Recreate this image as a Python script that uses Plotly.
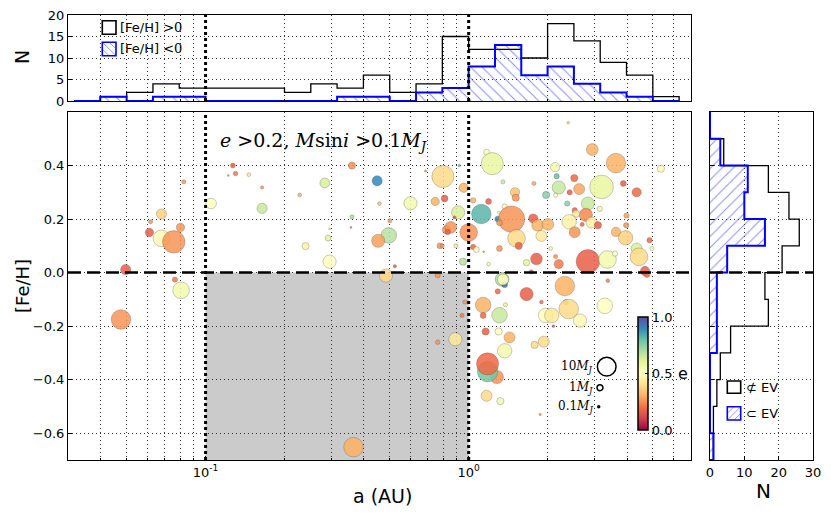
import math
import plotly.graph_objects as go

W, H = 831, 516          # browser window
OFF = 8                  # default page body margin
FW, FH = W - OFF, H - OFF  # figure size so that it fills the window

# ---------------- scatter data: semi-major axis (AU), [Fe/H], eccentricity, Msini (M_J)
A_AU = [0.127, 0.130, 0.122, 0.146, 0.0826, 0.105, 0.068, 0.0618, 0.0803, 0.0612,
        0.068, 0.0757, 0.101, 0.0497, 0.0889, 0.0765, 0.0807, 0.0477, 0.164, 0.164,
        0.360, 0.284, 0.449, 0.228, 0.458, 0.601, 0.746, 0.81, 0.686, 0.798,
        0.360, 0.296, 0.357, 0.292, 0.240, 0.296, 0.497, 0.453, 0.502, 0.524,
        0.778, 0.823, 0.485, 0.763, 2.39, 1.17, 1.23, 0.921, 0.957, 1.04,
        1.19, 0.912, 0.883, 0.855, 0.833, 0.793, 0.894, 1.0, 1.117, 1.29,
        1.35, 1.50, 1.51, 1.37, 1.455, 1.31, 1.30, 1.52, 1.55, 1.76,
        1.83, 2.0, 1.89, 1.77, 1.97, 2.13, 2.16, 2.20, 2.14, 1.04,
        1.07, 1.14, 1.31, 0.951, 1.19, 1.66, 1.81, 2.14, 2.2, 2.05,
        1.73, 1.34, 1.37, 1.35, 2.32, 2.95, 3.63, 5.38, 2.52, 2.63,
        3.2, 3.87, 4.35, 2.42, 2.37, 2.84, 3.15, 2.79, 2.53, 2.56,
        2.41, 2.93, 3.1, 2.53, 2.7, 3.98, 3.97, 3.63, 3.95, 4.87,
        4.35, 4.44, 4.97, 2.84, 3.37, 3.6, 4.68, 4.76, 3.38, 1.135,
        1.135, 1.38, 1.66, 1.29, 1.31, 1.89, 1.96, 2.07, 2.34, 2.4,
        2.1, 1.16, 1.3, 1.43, 1.37, 1.28, 1.18, 1.18, 1.17, 1.32,
        1.87, 1.93, 1.78, 0.967, 0.943, 0.89, 0.763, 2.65, 3.29, 0.365]
FEH = [0.40, 0.37, 0.363, 0.366, 0.339, 0.258, 0.219, 0.19, 0.169, 0.150,
       0.128, 0.115, 0.086, 0.011, 0.0, -0.026, -0.066, -0.175, 0.318, 0.240,
       0.40, 0.335, 0.343, 0.29, 0.258, 0.259, 0.266, 0.277, 0.38, 0.359,
       0.208, 0.163, 0.169, 0.129, 0.099, 0.041, 0.139, 0.119, 0.194, 0.024,
       0.10, 0.16, -0.011, -0.01, 0.56, 0.45, 0.407, 0.40, 0.317, 0.27,
       0.266, 0.225, 0.206, 0.169, 0.152, 0.10, 0.10, 0.15, 0.219, 0.20,
       0.339, 0.30, 0.28, 0.247, 0.20, 0.186, 0.225, 0.128, 0.10, 0.202,
       0.177, 0.18, 0.137, 0.333, 0.29, 0.394, 0.36, 0.318, 0.289, 0.096,
       0.086, 0.078, 0.09, 0.041, 0.032, 0.037, 0.051, 0.06, 0.032, 0.09,
       0.003, -0.025, -0.045, -0.026, -0.05, 0.46, 0.409, 0.388, 0.353, 0.312,
       0.32, 0.333, 0.30, 0.30, 0.258, 0.258, 0.238, 0.216, 0.233, 0.22,
       0.19, 0.187, 0.177, 0.151, 0.18, 0.213, 0.177, 0.152, 0.13, 0.121,
       0.09, 0.059, 0.09, 0.042, 0.049, 0.071, 0.006, -0.007, -0.03, -0.121,
       -0.16, -0.12, -0.08, -0.07, -0.159, -0.11, -0.16, -0.16, -0.11, -0.136,
       -0.2, -0.22, -0.22, -0.242, -0.292, -0.39, -0.37, -0.341, -0.46, -0.48,
       -0.53, -0.258, -0.27, -0.11, -0.16, -0.249, -0.26, -0.179, -0.124, -0.652]
ECC = [0.17, 0.22, 0.26, 0.43, 0.26, 0.5, 0.37, 0.26, 0.26, 0.17,
       0.48, 0.26, 0.55, 0.17, 0.31, 0.22, 0.55, 0.26, 0.26, 0.65,
       0.25, 0.62, 0.9, 0.31, 0.34, 0.55, 0.31, 0.17, 0.26, 0.39,
       0.7, 0.55, 0.17, 0.6, 0.46, 0.5, 0.68, 0.28, 0.28, 0.17,
       0.26, 0.26, 0.39, 0.26, 0.37, 0.5, 0.58, 0.8, 0.31, 0.31,
       0.17, 0.62, 0.17, 0.26, 0.17, 0.26, 0.43, 0.26, 0.82, 0.9,
       0.65, 0.34, 0.26, 0.48, 0.26, 0.26, 0.5, 0.39, 0.17, 0.17,
       0.31, 0.31, 0.43, 0.29, 0.75, 0.55, 0.8, 0.65, 0.5, 0.19,
       0.48, 0.26, 0.26, 0.68, 0.55, 0.6, 0.17, 0.26, 0.22, 0.48,
       0.17, 0.7, 0.95, 0.5, 0.31, 0.31, 0.31, 0.48, 0.19, 0.29,
       0.58, 0.17, 0.19, 0.17, 0.75, 0.65, 0.55, 0.24, 0.19, 0.43,
       0.46, 0.45, 0.17, 0.26, 0.19, 0.28, 0.26, 0.31, 0.37, 0.19,
       0.62, 0.39, 0.5, 0.17, 0.55, 0.5, 0.17, 0.19, 0.22, 0.31,
       0.19, 0.43, 0.17, 0.19, 0.65, 0.19, 0.5, 0.43, 0.75, 0.39,
       0.17, 0.17, 0.5, 0.31, 0.55, 0.26, 0.78, 0.19, 0.39, 0.55,
       0.26, 0.39, 0.39, 0.26, 0.22, 0.43, 0.26, 0.48, 0.5, 0.31]
MASS = [0.7, 0.6, 0.1, 0.4, 0.5, 3.2, 3.0, 0.5, 2.0, 2.0,
        8.0, 14.5, 0.1, 3.0, 0.15, 0.8, 8.0, 11.0, 0.3, 3.0,
        1.5, 2.8, 3.0, 0.4, 0.4, 5.0, 2.0, 1.3, 0.15, 14.0,
        0.5, 0.1, 0.1, 1.0, 1.5, 5.0, 7.0, 5.0, 0.5, 0.3,
        1.0, 2.0, 5.0, 0.8, 0.2, 1.0, 14.0, 0.2, 2.5, 0.8,
        1.0, 5.0, 0.3, 4.0, 0.8, 0.5, 0.5, 9.0, 11.0, 1.0,
        0.5, 2.5, 1.5, 0.8, 20.0, 1.0, 0.2, 9.0, 1.5, 2.5,
        4.0, 4.0, 3.5, 0.5, 1.5, 2.5, 0.8, 5.0, 0.5, 0.8,
        1.0, 0.1, 1.0, 1.5, 0.4, 1.2, 4.0, 0.5, 2.5, 0.4,
        0.5, 5.5, 1.0, 3.5, 11.0, 4.0, 11.0, 1.5, 1.5, 3.5,
        16.0, 1.0, 2.5, 0.8, 0.8, 5.0, 0.8, 5.0, 0.8, 1.5,
        6.0, 3.5, 1.5, 3.5, 0.5, 0.8, 0.8, 2.5, 6.0, 0.8,
        3.5, 9.0, 0.5, 16.0, 9.0, 0.8, 2.5, 1.0, 0.4, 7.0,
        1.0, 0.5, 5.0, 0.8, 7.0, 0.4, 6.0, 6.0, 0.8, 11.0,
        0.2, 1.5, 1.5, 3.5, 6.0, 5.0, 12.0, 14.0, 3.5, 1.5,
        0.15, 3.5, 1.5, 0.5, 0.5, 5.0, 0.6, 5.0, 7.0, 11.0]

A_CUTS = [0.1, 1.0]
FEH_CUT = 0.0
LEGEND_MASSES = [10, 1, 0.1]
LEGEND_MASS_LABELS = ["10<i>M<sub>J</sub></i>", "1<i>M<sub>J</sub></i>", "0.1<i>M<sub>J</sub></i>"]

# ---------------- top histogram (log10 a bins)
LOGA_EDGES = [-1.5, -1.4, -1.3, -1.2, -1.1, -1.0, -0.9, -0.8, -0.7, -0.6, -0.5, -0.4,
              -0.3, -0.2, -0.1, 0.0, 0.1, 0.2, 0.3, 0.4, 0.5, 0.6, 0.7, 0.8]
N_FEH_POS = [0, 1, 2, 4, 3, 3, 3, 3, 2, 4, 3, 6, 2, 4, 15, 12, 12, 10, 18, 14, 9, 6, 1]
N_FEH_NEG = [0, 1, 0, 1, 1, 0, 0, 0, 0, 0, 1, 1, 0, 2, 3, 8, 13, 6, 8, 4, 2, 1, 0]

# ---------------- right histogram ([Fe/H] bins)
FEH_EDGES = [-0.7, -0.6, -0.5, -0.4, -0.3, -0.2, -0.1, 0.0, 0.1, 0.2, 0.3, 0.4, 0.5, 0.6]
N_NOT_EV = [1, 1, 2, 3, 6, 17, 16, 21, 26, 23, 17, 4, 0]
N_EV = [1, 0, 0, 0, 2, 2, 2, 5, 16, 10, 11, 3, 0]

GRID_A = [0.04, 0.05, 0.06, 0.07, 0.08, 0.09, 0.2, 0.3, 0.4, 0.5, 0.6, 0.7, 0.8, 0.9,
          2, 3, 4, 5, 6, 7]
FEH_TICKS = [-0.6, -0.4, -0.2, 0.0, 0.2, 0.4]

# ---------------- layout geometry (window pixels)
MAIN_X = (68, 691)
MAIN_Y = (112, 460)
TOP_Y = (15, 101)
RIGHT_X = (710, 813)


def pxx(x):
    return (x - OFF) / FW


def pxy(y):
    return 1 - (y - OFF) / FH


def msize(m):
    return max(1.8, 5.9 * math.sqrt(m))


def step_h(edges, counts):
    xs = [edges[0]] + list(edges[:-1]) + [edges[-1], edges[-1]]
    ys = [0] + list(counts) + [counts[-1], 0]
    return xs, ys


GRID_DASH = "1px,3px"
GRID_COL = "#333333"
FONT = "DejaVu Sans"

fig = go.Figure()

# main scatter
fig.add_trace(go.Scatter(
    x=A_AU, y=FEH, mode="markers", xaxis="x", yaxis="y", showlegend=False,
    marker=dict(size=[msize(m) for m in MASS], color=ECC, colorscale="Spectral",
                cmin=0, cmax=1, opacity=0.85,
                line=dict(width=0.6, color="rgba(70,70,70,0.55)"),
                colorbar=dict(x=pxx(638), xanchor="left", xpad=0, ypad=0,
                              y=pxy(373.5), yanchor="middle",
                              thickness=10, len=113, lenmode="pixels",
                              tickvals=[0, 0.5, 1], ticktext=["0.0", "0.5", "1.0"],
                              ticks="inside", ticklen=3, tickcolor="black",
                              tickfont=dict(family=FONT, size=13, color="black"),
                              outlinecolor="black", outlinewidth=1.5))))

# top histogram
xs, ys = step_h([10 ** e for e in LOGA_EDGES], N_FEH_POS)
fig.add_trace(go.Scatter(x=xs, y=ys, mode="lines", xaxis="x2", yaxis="y2", showlegend=False,
                         line=dict(color="black", width=1.3, shape="hv")))
xs, ys = step_h([10 ** e for e in LOGA_EDGES], N_FEH_NEG)
fig.add_trace(go.Scatter(x=xs, y=ys, mode="lines", xaxis="x2", yaxis="y2", showlegend=False,
                         line=dict(color="blue", width=2, shape="hv"), fill="tozeroy",
                         fillpattern=dict(shape="\\", fgcolor="rgba(40,40,255,0.55)",
                                          bgcolor="rgba(0,0,0,0)", size=8, solidity=0.12)))

# right histogram
ys, xs = step_h(FEH_EDGES, N_NOT_EV)
fig.add_trace(go.Scatter(x=xs, y=ys, mode="lines", xaxis="x3", yaxis="y3", showlegend=False,
                         line=dict(color="black", width=1.3, shape="vh")))
ys, xs = step_h(FEH_EDGES, N_EV)
fig.add_trace(go.Scatter(x=xs, y=ys, mode="lines", xaxis="x3", yaxis="y3", showlegend=False,
                         line=dict(color="blue", width=2, shape="vh"), fill="tozerox",
                         fillpattern=dict(shape="/", fgcolor="rgba(40,40,255,0.55)",
                                          bgcolor="rgba(0,0,0,0)", size=8, solidity=0.12)))

axis_common = dict(showline=True, mirror=True, linecolor="black", linewidth=1,
                   ticks="inside", ticklen=4, tickcolor="black", zeroline=False,
                   automargin=False, ticklabeloverflow="allow",
                   tickfont=dict(family=FONT, size=13, color="black"))
minor_log = dict(tickvals=GRID_A, showgrid=True, griddash=GRID_DASH, gridcolor=GRID_COL,
                 gridwidth=1, ticks="inside", ticklen=2, tickcolor="black")
log_range = [math.log10(0.03), math.log10(7)]

fig.update_layout(
    template="none",
    width=FW, height=FH, margin=dict(l=0, r=0, t=0, b=0, pad=0, autoexpand=False),
    paper_bgcolor="white", plot_bgcolor="white",
    xaxis=dict(domain=[pxx(MAIN_X[0]), pxx(MAIN_X[1])], anchor="y", type="log",
               range=log_range, tickvals=[0.1, 1],
               ticktext=["10<sup>-1</sup>", "10<sup>0</sup>"], showgrid=False,
               minor=minor_log, **axis_common),
    yaxis=dict(domain=[pxy(MAIN_Y[1]), pxy(MAIN_Y[0])], anchor="x", range=[-0.7, 0.6],
               tickvals=FEH_TICKS, tickformat=".1f", showgrid=True, griddash=GRID_DASH,
               gridcolor=GRID_COL, gridwidth=1, **axis_common),
    xaxis2=dict(domain=[pxx(MAIN_X[0]), pxx(MAIN_X[1])], anchor="y2", type="log",
                range=log_range, tickvals=[0.1, 1], showticklabels=False, showgrid=False,
                minor=minor_log, **axis_common),
    yaxis2=dict(domain=[pxy(TOP_Y[1]), pxy(TOP_Y[0])], anchor="x2", range=[0, 20],
                tickvals=[0, 5, 10, 15, 20], showgrid=True, griddash=GRID_DASH,
                gridcolor=GRID_COL, gridwidth=1, **axis_common),
    xaxis3=dict(domain=[pxx(RIGHT_X[0]), pxx(RIGHT_X[1])], anchor="y3", range=[0, 30],
                tickvals=[0, 10, 20, 30], showgrid=True, griddash=GRID_DASH,
                gridcolor=GRID_COL, gridwidth=1, **axis_common),
    yaxis3=dict(domain=[pxy(MAIN_Y[1]), pxy(MAIN_Y[0])], anchor="x3", range=[-0.7, 0.6],
                tickvals=FEH_TICKS, showticklabels=False, showgrid=True, griddash=GRID_DASH,
                gridcolor=GRID_COL, gridwidth=1, **axis_common),
)

shapes = []
# grey excluded region (log axes: shape coords in data values)
shapes.append(dict(type="rect", xref="x", yref="y", x0=A_CUTS[0], x1=A_CUTS[1],
                   y0=-0.7, y1=FEH_CUT,
                   fillcolor="#cbcbcb", line=dict(width=0), layer="below"))
for ac in A_CUTS:
    for xr, yr in (("x", "y domain"), ("x2", "y2 domain")):
        shapes.append(dict(type="line", xref=xr, yref=yr, x0=ac, x1=ac,
                           y0=0, y1=1, line=dict(color="black", width=3, dash="dot")))
for xr, yr in (("x domain", "y"), ("x3 domain", "y3")):
    shapes.append(dict(type="line", xref=xr, yref=yr, x0=0, x1=1, y0=FEH_CUT, y1=FEH_CUT,
                       line=dict(color="black", width=2.5, dash="13px,6px")))

# size legend circles
size_leg_pos = [(606.7, 366.7), (600, 387.7), (598.7, 406.7)]
annotations = []
for m, lab, (cx, cy) in zip(LEGEND_MASSES, LEGEND_MASS_LABELS, size_leg_pos):
    r = msize(m) / 2
    shapes.append(dict(type="circle", xref="paper", yref="paper", xsizemode="pixel",
                       ysizemode="pixel", xanchor=pxx(cx), yanchor=pxy(cy),
                       x0=-r, x1=r, y0=-r, y1=r, fillcolor="white",
                       line=dict(color="black", width=1.5)))
    annotations.append(dict(xref="paper", yref="paper", x=pxx(595), y=pxy(cy),
                            xanchor="right", yanchor="middle", showarrow=False, text=lab,
                            font=dict(family="DejaVu Serif", size=12, color="black")))


def legend_box(x0, y0, x1, y1, color, hatch=None):
    shapes.append(dict(type="rect", xref="paper", yref="paper", x0=pxx(x0), x1=pxx(x1),
                       y0=pxy(y1), y1=pxy(y0), fillcolor="white",
                       line=dict(color=color, width=1.6)))
    if hatch:
        s = x1 - x0
        for c in (-s / 2, 0, s / 2):
            if hatch == "\\":
                ax, ay = x0 + max(0, -c), y0 + max(0, c)
                bx, by = x1 - max(0, c), y1 - max(0, -c)
            else:
                ax, ay = x0 + max(0, -c), y1 - max(0, c)
                bx, by = x1 - max(0, c), y0 + max(0, -c)
            shapes.append(dict(type="line", xref="paper", yref="paper", x0=pxx(ax), y0=pxy(ay),
                               x1=pxx(bx), y1=pxy(by),
                               line=dict(color="rgba(40,40,255,0.6)", width=0.8)))


legend_box(102.3, 20.7, 116, 34.3, "black")
legend_box(102.3, 42.3, 116, 55.7, "blue", "\\")
legend_box(727.3, 381, 740.7, 393.3, "black")
legend_box(727.3, 406.7, 740.7, 420, "blue", "/")

serif = "font-family:'DejaVu Serif'"
annotations += [
    dict(x=pxx(118), y=pxy(27.5), text=f"[Fe/H] <span style=\"{serif}\">&gt;0</span>",
         xanchor="left"),
    dict(x=pxx(118), y=pxy(49), text=f"[Fe/H] <span style=\"{serif}\">&lt;0</span>",
         xanchor="left"),
    dict(x=pxx(744), y=pxy(387), text="⊄ EV", xanchor="left"),
    dict(x=pxx(744), y=pxy(413.5), text="⊂ EV", xanchor="left"),
]
for a in annotations[-4:]:
    a.update(xref="paper", yref="paper", yanchor="middle", showarrow=False,
             font=dict(family=FONT, size=13, color="black"))

annotations += [
    dict(xref="paper", yref="paper", x=pxx(218), y=pxy(141), xanchor="left", yanchor="middle",
         showarrow=False,
         text="<i>e</i> &gt;0.2, <i>M</i>sin<i>i</i> &gt;0.1<i>M<sub>J</sub></i>",
         font=dict(family="DejaVu Serif", size=19, color="black")),
    dict(xref="paper", yref="paper", x=pxx(683), y=pxy(373.5), xanchor="center",
         yanchor="middle", showarrow=False, text="e",
         font=dict(family=FONT, size=16, color="black")),
    dict(xref="paper", yref="paper", x=pxx(382), y=pxy(496), xanchor="center",
         yanchor="middle", showarrow=False, text="a (AU)",
         font=dict(family=FONT, size=19, color="black")),
    dict(xref="paper", yref="paper", x=pxx(22), y=pxy(286), xanchor="center",
         yanchor="middle", showarrow=False, text="[Fe/H]", textangle=-90,
         font=dict(family=FONT, size=18, color="black")),
    dict(xref="paper", yref="paper", x=pxx(22), y=pxy(57), xanchor="center",
         yanchor="middle", showarrow=False, text="N", textangle=-90,
         font=dict(family=FONT, size=19, color="black")),
    dict(xref="paper", yref="paper", x=pxx(763), y=pxy(491), xanchor="center",
         yanchor="middle", showarrow=False, text="N",
         font=dict(family=FONT, size=20, color="black")),
]

fig.update_layout(shapes=shapes, annotations=annotations)
fig.write_html("out.html")
